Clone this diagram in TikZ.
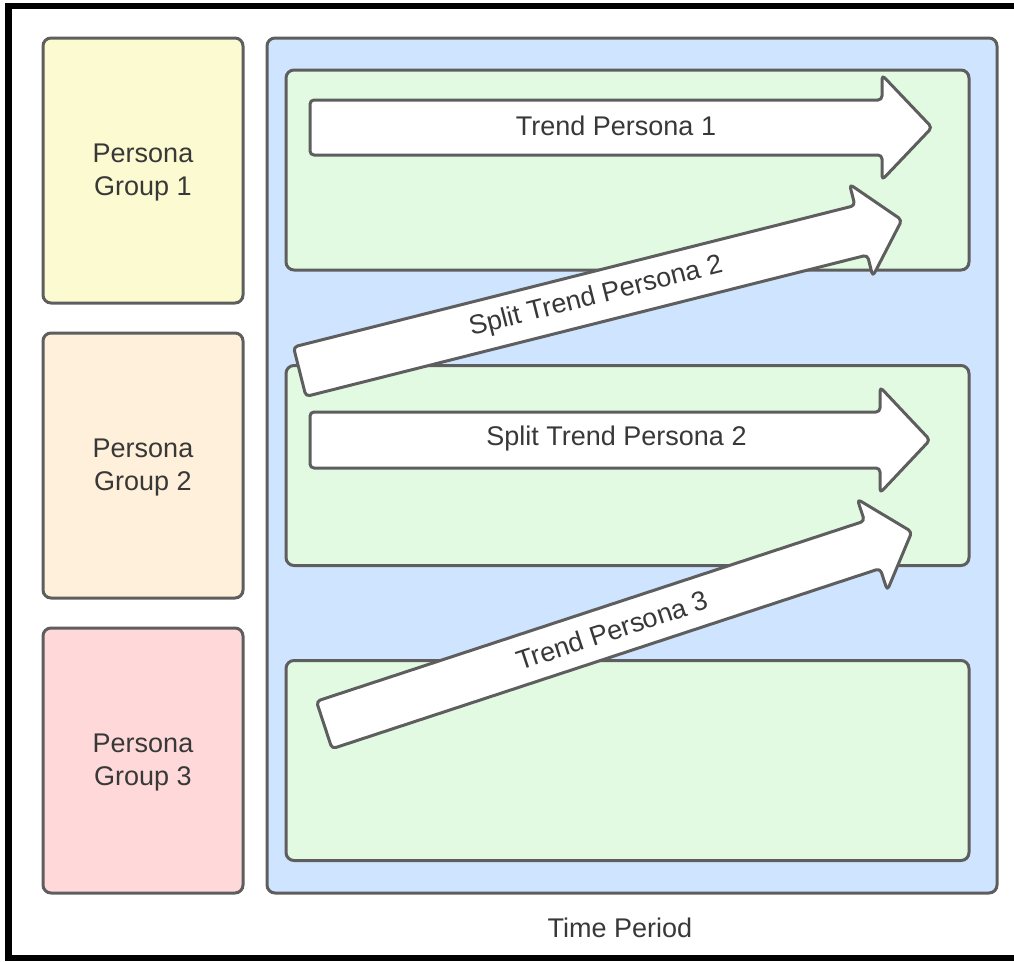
\documentclass[tikz,border=0pt]{standalone}
\usepackage{fontspec}
\setmainfont{Liberation Sans}
\definecolor{strokec}{HTML}{5E5E5E}
\definecolor{txtc}{HTML}{383838}
\definecolor{yelc}{HTML}{FCFAD0}
\definecolor{pchc}{HTML}{FEF0DA}
\definecolor{pnkc}{HTML}{FFD9D9}
\definecolor{bluc}{HTML}{CFE4FF}
\definecolor{grnc}{HTML}{E2FAE2}
\tikzset{
  box/.style={draw=strokec, line width=3pt, rounded corners=8pt, inner sep=0pt,
    text=txtc, align=center, font=\fontsize{27}{33}\selectfont},
  grpbox/.style={box, minimum width=200pt, minimum height=265pt},
  rowbox/.style={box, fill=grnc, minimum width=683pt, minimum height=200pt},
  barrow/.style={draw=strokec, fill=white, line width=3pt, rounded corners=4pt, line join=round},
  alabel/.style={text=txtc, font=\fontsize{27}{33}\selectfont, inner sep=0pt},
}
\begin{document}
\begin{tikzpicture}[x=1pt, y=-1pt]
\useasboundingbox (0,0) rectangle (1014,961);
\fill[white] (0,0) rectangle (1014,961);
\draw[line width=6.5pt, black] (8.5,6) rectangle (1040,958);

% persona groups
\node[grpbox, fill=yelc] (g1) at (143,170.5) {};
\node[grpbox, fill=pchc] (g2) at (143,465.5) {};
\node[grpbox, fill=pnkc] (g3) at (143,760.5) {};
\node[alabel, align=center] (g1t) at (143,173) {Persona\\Group 1};
\node[alabel, align=center] (g2t) at (143,468) {Persona\\Group 2};
\node[alabel, align=center] (g3t) at (143,763) {Persona\\Group 3};

% time period frame
\node[box, fill=bluc, minimum width=730pt, minimum height=855pt] (tp) at (632,465.5) {};
\node[rowbox] (r1) at (627.5,170) {};
\node[rowbox] (r2) at (627.5,465.5) {};
\node[rowbox] (r3) at (627.5,760.5) {};
\node[alabel] (tlabel) at (620,928) {Time Period};

% arrow 1
\begin{scope}[shift={(310,127.5)}]
  \draw[barrow] (0,0) -- (0,-27.5) -- (572,-27.5) -- (572,-52.5) -- (622,0) -- (572,52.5) -- (572,27.5) -- (0,27.5) -- cycle;
  \node[alabel] (a1) at (306,-2) {Trend Persona 1};
\end{scope}

% diagonal arrow A
\begin{scope}[shift={(299.7,371.7)}, rotate=14.14]
  \draw[barrow] (0,0) -- (0,-25.5) -- (579,-25.5) -- (579,-47.5) -- (621,0) -- (579,47.5) -- (579,25.5) -- (0,25.5) -- cycle;
  \node[alabel, rotate=14.14] (a2) at (305.6,0) {Split Trend Persona 2};
\end{scope}

% arrow 2
\begin{scope}[shift={(310,440)}]
  \draw[barrow] (0,0) -- (0,-28) -- (570,-28) -- (570,-53) -- (620,0) -- (570,53) -- (570,28) -- (0,28) -- cycle;
  \node[alabel] (a3) at (306.5,-1) {Split Trend Persona 2};
\end{scope}

% diagonal arrow B
\begin{scope}[shift={(324.2,725)}, rotate=18.2]
  \draw[barrow] (0,0) -- (0,-25) -- (577,-25) -- (577,-48) -- (618.6,0) -- (577,48) -- (577,25) -- (0,25) -- cycle;
  \node[alabel, rotate=18.2] (a4) at (303,0) {Trend Persona 3};
\end{scope}
\end{tikzpicture}
\end{document}
